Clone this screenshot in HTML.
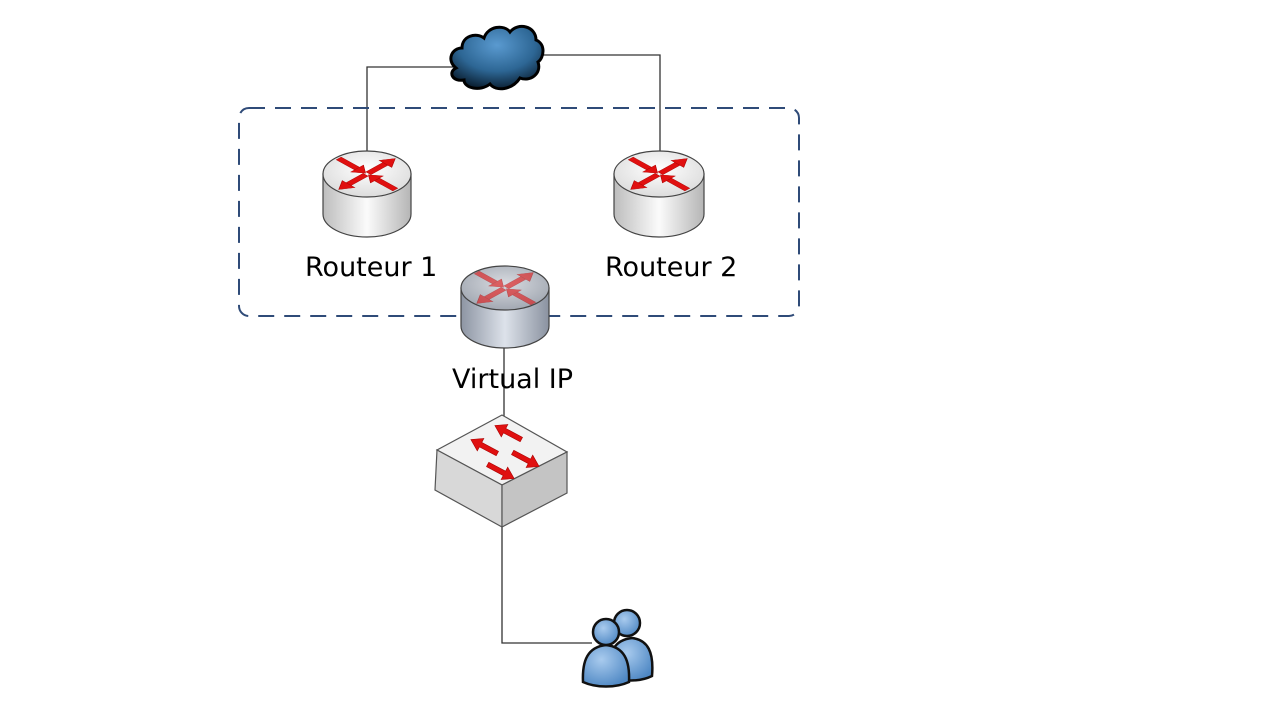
<!DOCTYPE html>
<html><head><meta charset="utf-8"><style>
html,body{margin:0;padding:0;background:#fff;width:1280px;height:720px;overflow:hidden}
svg{display:block}
text{font-family:"DejaVu Sans","Liberation Sans",sans-serif}
</style></head><body>
<svg width="1280" height="720" viewBox="0 0 1280 720" xmlns="http://www.w3.org/2000/svg">
<defs>
<linearGradient id="cyl" x1="0" x2="1" y1="0" y2="0">
<stop offset="0" stop-color="#bdbdbd"/><stop offset="0.5" stop-color="#fbfbfb"/><stop offset="1" stop-color="#b5b5b5"/>
</linearGradient>
<radialGradient id="top" cx="0.5" cy="0.4" r="0.6">
<stop offset="0" stop-color="#ffffff"/><stop offset="1" stop-color="#dcdcdc"/>
</radialGradient>
<linearGradient id="vcyl" x1="0" x2="1" y1="0" y2="0">
<stop offset="0" stop-color="#8d95a3"/><stop offset="0.5" stop-color="#dde2ea"/><stop offset="1" stop-color="#8a92a0"/>
</linearGradient>
<radialGradient id="vtop" cx="0.5" cy="0.4" r="0.6">
<stop offset="0" stop-color="#d8dbe0"/><stop offset="1" stop-color="#a2a8b2"/>
</radialGradient>
<radialGradient id="cloudg" cx="0.5" cy="0.3" r="0.7">
<stop offset="0" stop-color="#5a9ad0"/><stop offset="0.6" stop-color="#2d6694"/><stop offset="1" stop-color="#0c2236"/>
</radialGradient>
<radialGradient id="pg" cx="0.4" cy="0.35" r="0.7">
<stop offset="0" stop-color="#a9cbee"/><stop offset="1" stop-color="#4f88c4"/>
</radialGradient>
<g id="arrows">
<g transform="scale(1,0.55)">
<g fill="#e01010" stroke="#a00" stroke-width="0.6">
<g transform="rotate(45)"><rect x="-40" y="-3.5" width="26" height="7"/><polygon points="-14,-9 -2,0 -14,9"/></g>
<g transform="rotate(-45)"><rect x="2" y="-3.5" width="26" height="7"/><polygon points="26,-9 40,0 26,9"/></g>
<g transform="rotate(135)"><rect x="2" y="-3.5" width="26" height="7"/><polygon points="26,-9 40,0 26,9"/></g>
<g transform="rotate(-135)"><rect x="-40" y="-3.5" width="26" height="7"/><polygon points="-14,-9 -2,0 -14,9"/></g>
</g></g></g>
<g id="sa"><polygon points="-16,0 -5,-7 -5,-2.5 14,-2.5 14,2.5 -5,2.5 -5,7" fill="#e01010" stroke="#a00" stroke-width="0.6"/></g>
</defs>

<g stroke="#333" stroke-width="1.3" fill="none">
<polyline points="455,67 367,67 367,153"/>
<polyline points="538,55 660,55 660,180"/>
<line x1="504" y1="345" x2="504" y2="417"/>
<polyline points="502,527 502,643 592,643"/>
</g>

<rect x="239" y="108" width="560" height="208" rx="10" fill="none" stroke="#2f4b78" stroke-width="2" stroke-dasharray="16,10"/>

<g transform="translate(496,58)">
<path d="M-40,10 C-50,2 -44,-10 -34,-10 C-34,-22 -20,-26 -12,-20 C-8,-32 8,-34 14,-26 C22,-36 40,-32 40,-18 C50,-14 48,0 42,4 C46,16 34,24 24,20 C16,32 0,34 -6,26 C-16,34 -32,30 -32,22 C-44,24 -48,14 -40,10 Z" fill="url(#cloudg)" stroke="#000" stroke-width="3"/>
</g>

<g transform="translate(367,174)">
<path d="M-44,0 L-44,40 A44,23 0 0 0 44,40 L44,0 Z" fill="url(#cyl)" stroke="#444" stroke-width="1.2"/>
<ellipse cx="0" cy="0" rx="44" ry="23" fill="url(#top)" stroke="#444" stroke-width="1.2"/>
<use href="#arrows"/>
</g>
<g transform="translate(659,174)">
<path d="M-45,0 L-45,40 A45,23 0 0 0 45,40 L45,0 Z" fill="url(#cyl)" stroke="#444" stroke-width="1.2"/>
<ellipse cx="0" cy="0" rx="45" ry="23" fill="url(#top)" stroke="#444" stroke-width="1.2"/>
<use href="#arrows"/>
</g>
<g transform="translate(505,288)">
<path d="M-44,0 L-44,38 A44,22 0 0 0 44,38 L44,0 Z" fill="url(#vcyl)" stroke="#444" stroke-width="1.2"/>
<ellipse cx="0" cy="0" rx="44" ry="22" fill="url(#vtop)" stroke="#444" stroke-width="1.2"/>
<g opacity="0.6"><use href="#arrows"/></g>
</g>

<g stroke="#555" stroke-width="1.2">
<polygon points="502,415 437,450 502,485 567,452" fill="#f2f2f2"/>
<polygon points="437,450 502,485 502,527 435,490" fill="#d8d8d8"/>
<polygon points="502,485 567,452 567,493 502,527" fill="#c4c4c4"/>
</g>
<use href="#sa" transform="translate(509,433) rotate(28)"/>
<use href="#sa" transform="translate(485,447) rotate(28)"/>
<use href="#sa" transform="translate(525,459) rotate(208)"/>
<use href="#sa" transform="translate(500,471) rotate(208)"/>

<g stroke="#111" stroke-width="2.5" fill="url(#pg)">
<path d="M610,676 C608,652 614,640 632,638 C648,640 654,652 652,676 C640,682 622,682 610,676 Z"/>
<circle cx="627" cy="623" r="13"/>
<path d="M583,682 C582,660 588,647 606,645 C624,647 630,660 629,682 C616,688 596,688 583,682 Z"/>
<circle cx="606" cy="632" r="13"/>
</g>

<g font-size="27" fill="#000">
<text x="305" y="276">Routeur 1</text>
<text x="605" y="276">Routeur 2</text>
<text x="452" y="388">Virtual IP</text>
</g>
</svg>
</body></html>
